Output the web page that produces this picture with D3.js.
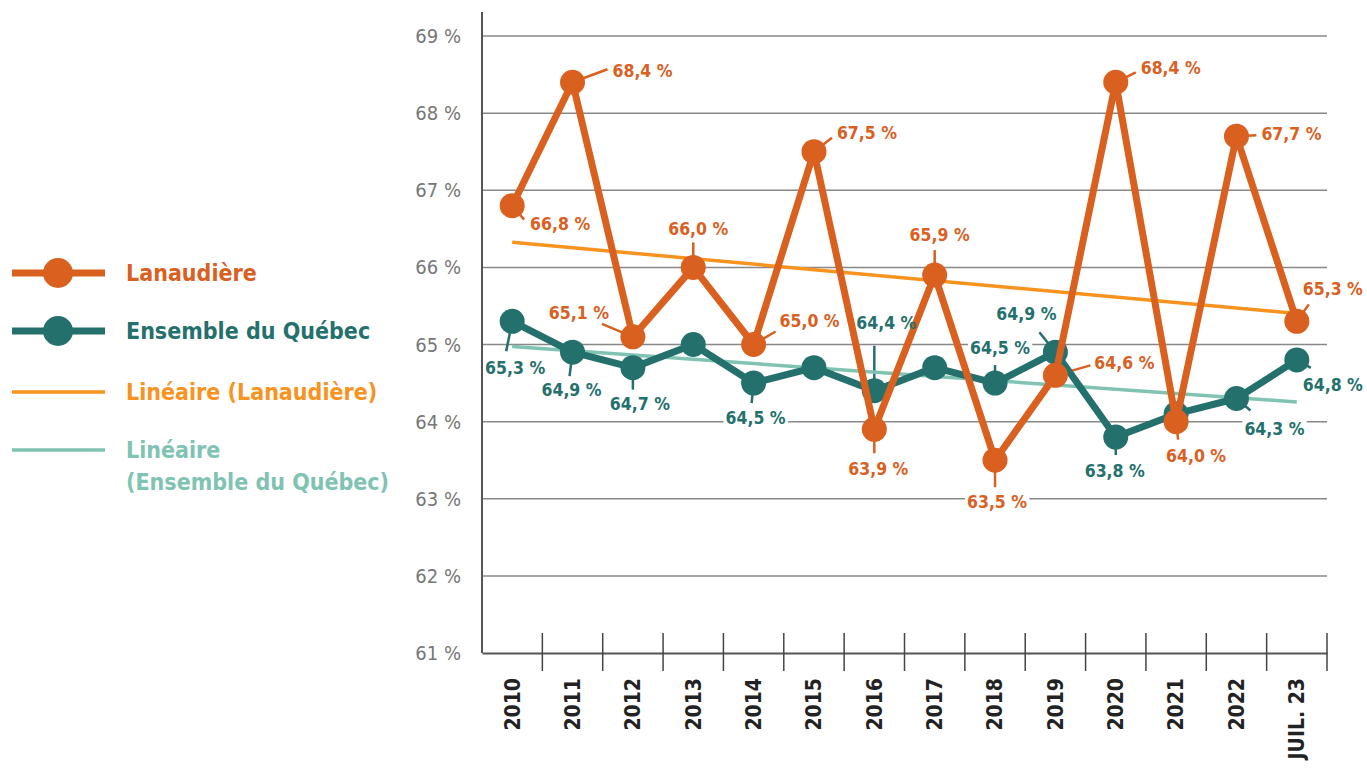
<!DOCTYPE html>
<html>
<head>
<meta charset="utf-8">
<script src="https://cdn.jsdelivr.net/npm/d3@7"></script>
<style>
  body { margin: 0; background: #fff; }
  svg text { font-family: "DejaVu Sans Condensed", "Roboto", sans-serif; }
</style>
</head>
<body>
<div id="chart"></div>
<script>
// categories and values
var categories = ["2010", "2011", "2012", "2013", "2014", "2015", "2016", "2017", "2018", "2019", "2020", "2021", "2022", "JUIL. 23"];
var lanaudiere = [66.8, 68.4, 65.1, 66.0, 65.0, 67.5, 63.9, 65.9, 63.5, 64.6, 68.4, 64.0, 67.7, 65.3];
var quebec = [65.3, 64.9, 64.7, 65.0, 64.5, 64.7, 64.4, 64.7, 64.5, 64.9, 63.8, 64.1, 64.3, 64.8];
var yTicks = [61, 62, 63, 64, 65, 66, 67, 68, 69];

// label placement (text offset, leader end offset) - null = no label
var lanLabelPos = [
  [[48, 18], [12, 14]], [[70, -11], [35, -13]], [[-54, -24], [-31, -13]], [[5, -39], [0, -25]],
  [[56, -24], [22, -13]], [[53, -19], [18, -14]], [[4, 40], [0, 24]], [[5, -40], [0, -25]],
  [[2, 42], [0, 27]], [[69, -12], [35, -10]], [[55, -14], [20, -10]], [[20, 34], [2, 18]],
  [[55, -2], [20, -1]], [[36, -32], [12, -17]]
];
var qcLabelPos = [
  [[3, 47], [-6, 30]], [[-1, 38], [-3, 24]], [[7, 36], [0, 22]], null,
  [[2, 35], [-2, 20]], null, [[12, -68], [0, -45]], null,
  [[5, -35], [0, -18]], [[-29, -38], [-16, -20]], [[-1, 34], [0, 18]], null,
  [[38, 30], [14, 12]], [[36, 25], [14, 8]]
];

var colLan = "#d9601f", colQc = "#24706c", colLanTrend = "#f7931e", colQcTrend = "#80c3b3";

var width = 1367, height = 769;
var margin = { top: 36, left: 482, right: 40, bottom: 116 };

var svg = d3.select("#chart").append("svg")
  .attr("width", width)
  .attr("height", height);

var x = d3.scaleBand()
  .domain(categories)
  .range([margin.left, width - margin.right]);
var y = d3.scaleLinear()
  .domain([61, 69])
  .range([height - margin.bottom, margin.top]);

var cx = function (d, i) { return x(categories[i]) + x.bandwidth() / 2; };

// gridlines
svg.append("g").selectAll("line")
  .data(yTicks.slice(1))
  .enter().append("line")
  .attr("x1", margin.left).attr("x2", width - margin.right)
  .attr("y1", function (d) { return y(d); }).attr("y2", function (d) { return y(d); })
  .style("stroke", "#888").style("stroke-width", 1.5);

// y labels
svg.append("g").selectAll("text")
  .data(yTicks)
  .enter().append("text")
  .attr("x", 461).attr("y", function (d) { return y(d); })
  .attr("dy", "0.35em")
  .attr("text-anchor", "end")
  .style("font-size", "20px").style("fill", "#777").style("font-weight", 300)
  .text(function (d) { return d + " %"; });

// axes
svg.append("line")
  .attr("x1", margin.left).attr("x2", margin.left)
  .attr("y1", 12).attr("y2", y(61))
  .style("stroke", "#555").style("stroke-width", 2);

var xAxis = svg.append("g")
  .attr("transform", "translate(0," + y(61) + ")")
  .call(d3.axisBottom(x).tickSize(0).tickSizeOuter(0));
xAxis.select(".domain").style("stroke", "#555").style("stroke-width", 2);
xAxis.selectAll(".tick line").remove();
xAxis.selectAll(".tick text")
  .attr("transform", "rotate(-90)")
  .attr("x", -25).attr("y", 0).attr("dy", "0.35em")
  .attr("text-anchor", "end")
  .style("font-family", "'DejaVu Sans Condensed', Roboto, sans-serif")
  .style("font-size", "21px").style("font-weight", "bold").style("fill", "#222");

// category boundary ticks
svg.append("g").selectAll("line")
  .data(categories.slice(1).concat(["__end"]))
  .enter().append("line")
  .attr("x1", function (d, i) { return i < categories.length - 1 ? x(d) : x.range()[1]; })
  .attr("x2", function (d, i) { return i < categories.length - 1 ? x(d) : x.range()[1]; })
  .attr("y1", y(61) - 20).attr("y2", y(61) + 18)
  .style("stroke", "#444").style("stroke-width", 1.5);

// label layers
var labelBg = svg.append("g");
var leaderLayer = svg.append("g");

// trend lines (least squares)
function trend(vals) {
  var n = vals.length, xs = d3.range(n);
  var mx = d3.mean(xs), my = d3.mean(vals);
  var b = d3.sum(xs, function (i) { return (i - mx) * (vals[i] - my); }) / d3.sum(xs, function (i) { return (i - mx) * (i - mx); });
  var a = my - b * mx;
  return [a, a + b * (n - 1)];
}
function drawTrend(vals, color) {
  var t = trend(vals);
  svg.append("line")
    .attr("x1", cx(null, 0)).attr("x2", cx(null, vals.length - 1))
    .attr("y1", y(t[0])).attr("y2", y(t[1]))
    .style("stroke", color).style("stroke-width", 3.5);
}
drawTrend(quebec, colQcTrend);
drawTrend(lanaudiere, colLanTrend);

var line = d3.line()
  .x(function (d, i) { return cx(d, i); })
  .y(function (d) { return y(d); });

function drawSeries(vals, color, pos) {
  // leaders
  vals.forEach(function (v, i) {
    if (!pos[i]) return;
    leaderLayer.append("line")
      .attr("x1", cx(v, i)).attr("y1", y(v))
      .attr("x2", cx(v, i) + pos[i][1][0]).attr("y2", y(v) + pos[i][1][1])
      .style("stroke", color).style("stroke-width", 2.5);
  });
  svg.append("path")
    .datum(vals)
    .attr("d", line)
    .style("fill", "none").style("stroke", color).style("stroke-width", 7)
    .style("stroke-linejoin", "round");
  svg.append("g").selectAll("circle")
    .data(vals)
    .enter().append("circle")
    .attr("cx", cx).attr("cy", function (d) { return y(d); })
    .attr("r", 12.5)
    .style("fill", color);
}

function drawLabels(vals, color, pos) {
  var g = svg.append("g");
  vals.forEach(function (v, i) {
    if (!pos[i]) return;
    var t = g.append("text")
      .attr("x", cx(v, i) + pos[i][0][0]).attr("y", y(v) + pos[i][0][1])
      .attr("dy", "0.35em").attr("text-anchor", "middle")
      .style("font-size", "17.5px").style("font-weight", "bold").style("fill", color)
      .text(d3.format(".1f")(v).replace(".", ",") + " %");
    var bb = t.node().getBBox();
    labelBg.append("rect")
      .attr("x", bb.x - 2).attr("y", bb.y + 2)
      .attr("width", bb.width + 4).attr("height", bb.height - 4)
      .style("fill", "#fff");
  });
}

drawSeries(quebec, colQc, qcLabelPos);
drawSeries(lanaudiere, colLan, lanLabelPos);
drawLabels(quebec, colQc, qcLabelPos);
drawLabels(lanaudiere, colLan, lanLabelPos);

// legend
var legendItems = [
  { name: ["Lanaudière"], color: colLan, dot: true, y: 273 },
  { name: ["Ensemble du Québec"], color: colQc, dot: true, y: 331 },
  { name: ["Linéaire (Lanaudière)"], color: colLanTrend, dot: false, y: 392 },
  { name: ["Linéaire", "(Ensemble du Québec)"], color: colQcTrend, dot: false, y: 450 }
];
var legend = svg.append("g");
legendItems.forEach(function (d) {
  legend.append("line")
    .attr("x1", 12).attr("x2", 105).attr("y1", d.y).attr("y2", d.y)
    .style("stroke", d.color).style("stroke-width", d.dot ? 7 : 3.5);
  if (d.dot) {
    legend.append("circle").attr("cx", 58).attr("cy", d.y).attr("r", 15).style("fill", d.color);
  }
  d.name.forEach(function (s, k) {
    legend.append("text")
      .attr("x", 126).attr("y", d.y + k * 32).attr("dy", "0.35em")
      .style("font-size", "23px").style("font-weight", "bold").style("fill", d.color)
      .text(s);
  });
});
</script>
</body>
</html>
